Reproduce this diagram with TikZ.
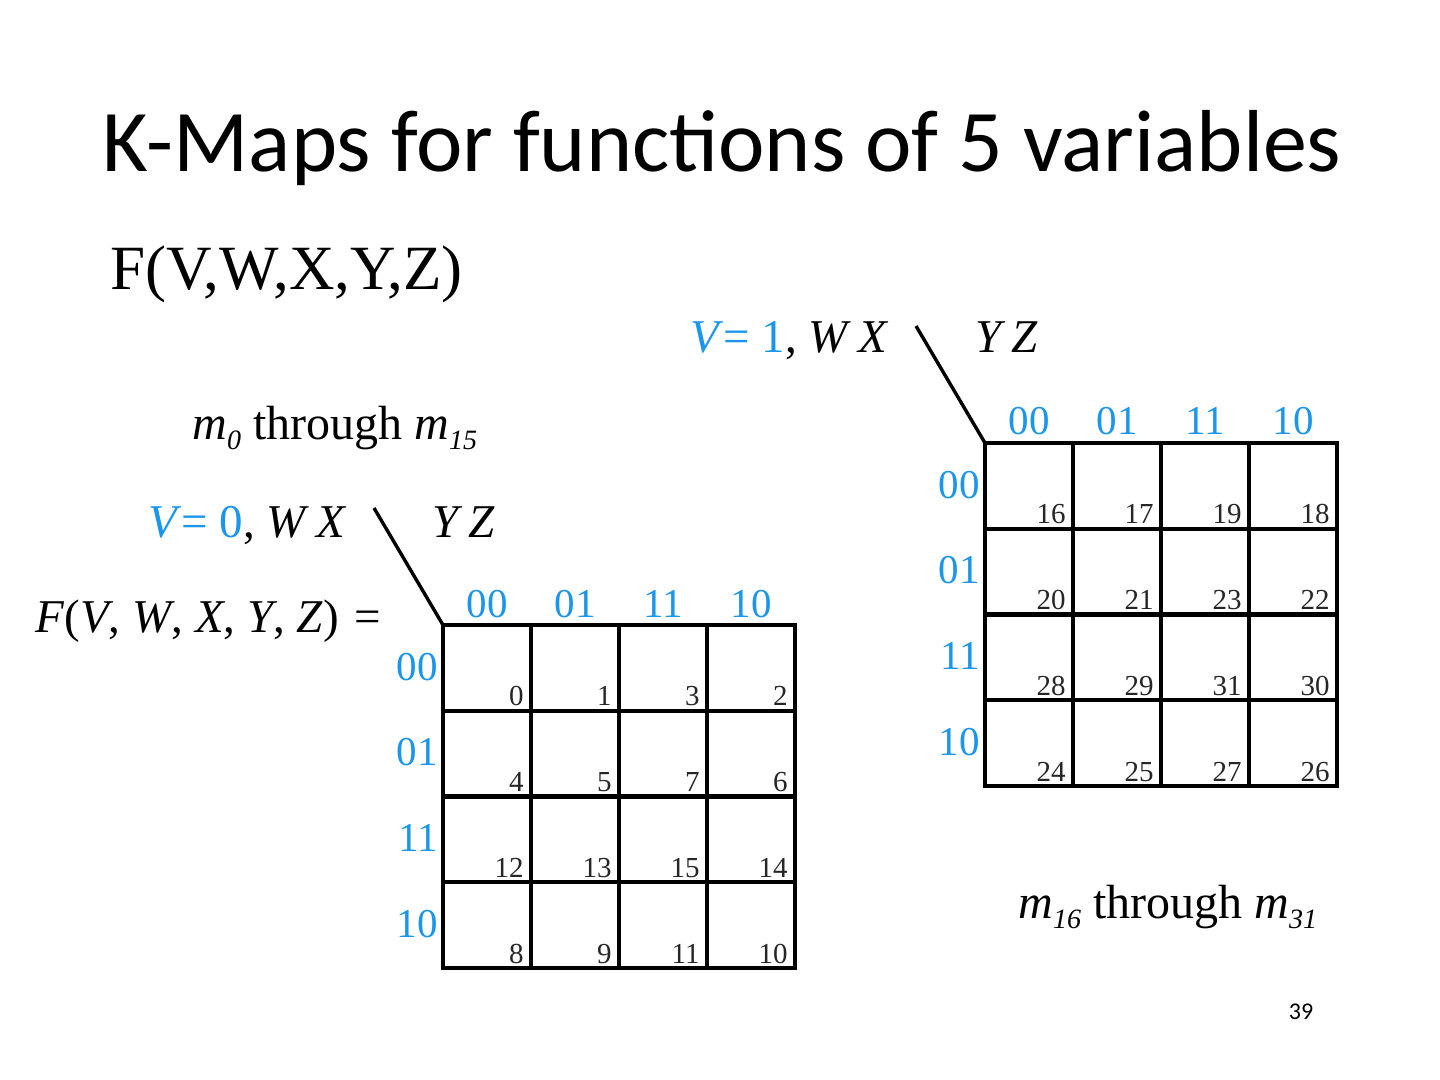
\documentclass[tikz,border=0pt]{standalone}
\usepackage{fontspec}
\setmainfont{Liberation Serif}
\newfontfamily\calibri{Carlito}
\definecolor{kblue}{RGB}{27,150,235}
\tikzset{
  gridline/.style={line width=2.2pt, line cap=rect},
  diag/.style={line width=1.7pt},
  cellnum/.style={anchor=base east, inner sep=0pt, font=\fontsize{14.5}{16}\selectfont, text=black!85},
  collbl/.style={anchor=base, inner sep=0pt, font=\fontsize{20.5}{24}\selectfont, text=kblue},
  rowlbl/.style={anchor=base east, inner sep=0pt, font=\fontsize{20.5}{24}\selectfont, text=kblue},
  mathlbl/.style={anchor=base west, inner sep=0pt, font=\fontsize{23.5}{28}\selectfont},
  body/.style={anchor=base west, inner sep=0pt, font=\fontsize{24}{28}\selectfont},
}
\newcommand\subidx[1]{{\fontsize{14}{16}\selectfont\raisebox{-5pt}{\textit{#1}}}}
\newcommand\kmapdraw[4]{%
  \begin{scope}[shift={(#1,#2)}]
    \coordinate (#3-corner) at (0,0);
    \coordinate (#3-diagtop) at (-69,-117);
    \draw[diag] (#3-corner) -- (#3-diagtop);
    \draw[gridline] (0,0) rectangle (352,343);
    \foreach \k in {1,2,3} {
      \draw[gridline] ({\k*88},0) -- ({\k*88},343);
      \draw[gridline] (0,{\k*85.75}) -- (352,{\k*85.75});
    }
    \foreach \t [count=\k from 0] in {00,01,11,10} {
      \node[collbl] (#3-col\k) at ({\k*88+44},-8) {\t};
      \node[rowlbl] (#3-row\k) at (-5,{\k*85.75+55}) {\t};
    }
    \foreach \n [count=\k from 0] in {#4} {
      \pgfmathtruncatemacro\rr{int(\k/4)}
      \pgfmathtruncatemacro\cc{mod(\k,4)}
      \node[cellnum] (#3-m\n) at ({(\cc+1)*88-7},{(\rr+1)*85.75-5}) {\n};
    }
  \end{scope}
}
\begin{document}
\begin{tikzpicture}[x=0.5pt,y=-0.5pt]
\useasboundingbox[fill=white] (0,0) rectangle (1440,1080);
\node[anchor=base, inner sep=0pt] (title) at (722,172) {\calibri\fontsize{44}{52}\selectfont K-Maps for functions of 5 variables};
\node[anchor=base west, inner sep=0pt] (func) at (110,290) {\fontsize{31.5}{38}\selectfont F(V,W,X,Y,Z)};
\node[body] (range0) at (192,440) {\textit{m}\subidx{0} through \textit{m}\subidx{15}};
\node[body] (range1) at (1018,918) {\textit{m}\subidx{16} through \textit{m}\subidx{31}};
\node[anchor=base, inner sep=0pt, font=\calibri\fontsize{12}{14}\selectfont] (page) at (1301,1019) {39};

% right map
\kmapdraw{985}{443}{R}{16,17,19,18,20,21,23,22,28,29,31,30,24,25,27,26}
\node[mathlbl] (Rvar) at (690,353) {{\color{kblue}\textit{V}= 1}, \textit{W\kern5pt X}};
\node[mathlbl] (Ryz) at (975,353) {\textit{Y\kern5pt Z}};

% left map
\kmapdraw{443}{625}{L}{0,1,3,2,4,5,7,6,12,13,15,14,8,9,11,10}
\node[mathlbl] (Lvar) at (148,537) {{\color{kblue}\textit{V}= 0}, \textit{W\kern5pt X}};
\node[mathlbl] (Lyz) at (432,537) {\textit{Y\kern5pt Z}};
\node[mathlbl] (Lfunc) at (35,632) {\textit{F}(\textit{V}, \textit{W}, \textit{X}, \textit{Y}, \textit{Z})\,\,=};
\end{tikzpicture}
\end{document}
